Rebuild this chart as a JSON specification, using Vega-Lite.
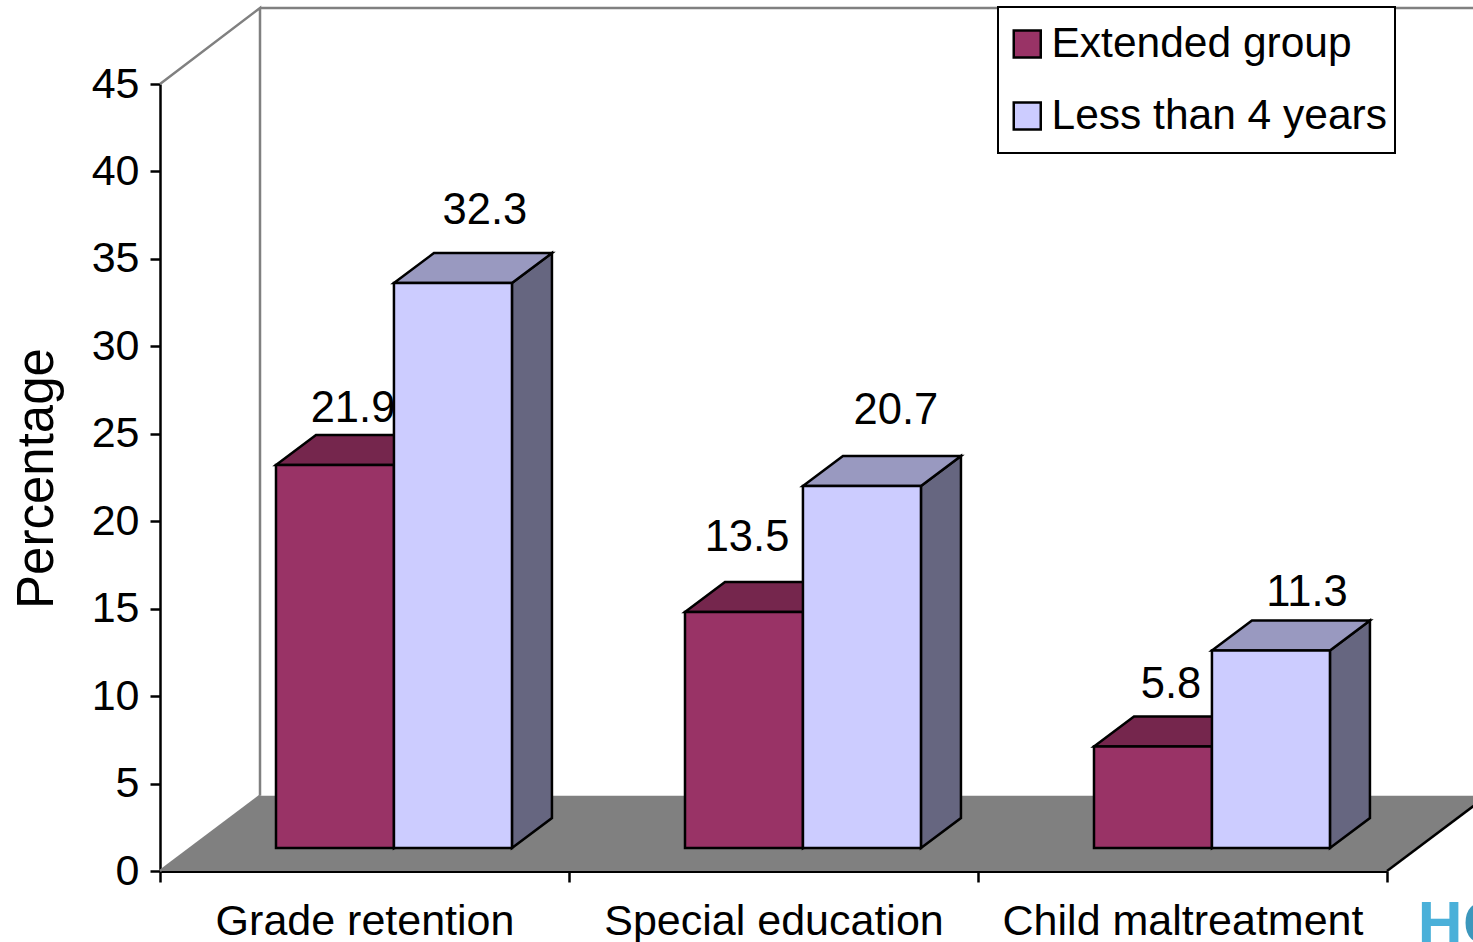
{
  "$schema": "https://vega.github.io/schema/vega-lite/v6.json",
  "width": 1313,
  "height": 871,
  "autosize": "none",
  "padding": {"left": 160, "top": 0, "right": 0, "bottom": 71},
  "background": "white",
  "config": {"font": "Liberation Sans", "view": {"stroke": null}, "legend": {"strokeWidth": 2}},
  "data": {"values": [
    {"category": "Grade retention", "series": "Extended group", "value": 21.9},
    {"category": "Grade retention", "series": "Less than 4 years", "value": 32.3},
    {"category": "Special education", "series": "Extended group", "value": 13.5},
    {"category": "Special education", "series": "Less than 4 years", "value": 20.7},
    {"category": "Child maltreatment", "series": "Extended group", "value": 5.8},
    {"category": "Child maltreatment", "series": "Less than 4 years", "value": 11.3}
  ]},
  "transform": [
    {"calculate": "indexof(['Grade retention','Special education','Child maltreatment'], datum.category) + (datum.series === 'Extended group' ? 0.2836 : 0.572)", "as": "left"},
    {"calculate": "datum.left + 0.2885", "as": "right"},
    {"calculate": "(datum.left + datum.right) / 2", "as": "center"}
  ],
  "layer": [
    {
      "description": "Chart floor",
      "data": {"values": [
        {"level": 0, "from": 0, "to": 3},
        {"level": 4.3, "from": 0.2445, "to": 3.2445}
      ]},
      "mark": {"type": "area", "orient": "horizontal", "color": "#808080"},
      "encoding": {
        "y": {"field": "level", "type": "quantitative", "scale": {"domain": [0, 45], "range": [871, 84]},
          "axis": {
            "values": [0, 5, 10, 15, 20, 25, 30, 35, 40, 45],
            "title": "Percentage",
            "titleFontSize": 51,
            "titleFontWeight": "normal",
            "titleColor": "black",
            "titleX": -123,
            "titleY": 478,
            "titleAlign": "center",
            "titleBaseline": "middle",
            "labelFontSize": 43,
            "labelColor": "black",
            "labelPadding": 11,
            "tickColor": "black",
            "tickWidth": 2.5,
            "tickSize": 10,
            "domainColor": "black",
            "domainWidth": 2.5,
            "grid": false
          }},
        "x": {"field": "from", "type": "quantitative", "scale": {"domain": [0, 3], "range": [0, 1227]},
          "axis": {
            "values": [0, 1, 2, 3],
            "title": null,
            "labelExpr": "['Grade retention','Special education','Child maltreatment',''][datum.value]",
            "labelFontSize": 43,
            "labelColor": "black",
            "labelOffset": 204.5,
            "labelPadding": 18,
            "labelLimit": 500,
            "labelFlush": false,
            "labelOverlap": false,
            "labelBound": false,
            "tickColor": "black",
            "tickWidth": 2.5,
            "tickSize": 11,
            "domainColor": "black",
            "domainWidth": 3,
            "grid": false
          }},
        "x2": {"field": "to"}
      }
    },
    {
      "description": "Back wall and side wall outline",
      "data": {"values": [
        {"edge": "side", "step": 0, "px": 0, "py": 45},
        {"edge": "side", "step": 1, "px": 0.2445, "py": 49.35},
        {"edge": "side", "step": 2, "px": 0.2445, "py": 4.3},
        {"edge": "top", "step": 0, "px": 0.2445, "py": 49.35},
        {"edge": "top", "step": 1, "px": 3.2445, "py": 49.35},
        {"edge": "lip", "step": 0, "px": 0, "py": 0},
        {"edge": "lip", "step": 1, "px": 0.2445, "py": 4.3}
      ]},
      "mark": {"type": "line", "stroke": "#808080", "strokeWidth": 2.5},
      "encoding": {
        "x": {"field": "px", "type": "quantitative"},
        "y": {"field": "py", "type": "quantitative", "scale": {"domain": [0, 45], "range": [871, 84]}, "axis": null},
        "detail": {"field": "edge"},
        "order": {"field": "step"}
      }
    },
    {
      "description": "Front edge of the floor on the right",
      "data": {"values": [
        {"px": 3, "py": 0},
        {"px": 3.2445, "py": 4.3}
      ]},
      "mark": {"type": "line", "stroke": "black", "strokeWidth": 2.5},
      "encoding": {
        "x": {"field": "px", "type": "quantitative"},
        "y": {"field": "py", "type": "quantitative", "scale": {"domain": [0, 45], "range": [871, 84]}, "axis": null}
      }
    },
    {
      "description": "Right side face of each column",
      "transform": [
        {"calculate": "[0, 1]", "as": "depth"},
        {"flatten": ["depth"]},
        {"calculate": "datum.right + datum.depth * 0.0978", "as": "sx"},
        {"calculate": "datum.value + datum.depth * 1.715", "as": "sTop"},
        {"calculate": "datum.depth * 1.715", "as": "sBase"}
      ],
      "mark": {"type": "area", "orient": "vertical", "stroke": "black", "strokeWidth": 2.5},
      "encoding": {
        "x": {"field": "sx", "type": "quantitative"},
        "y": {"field": "sTop", "type": "quantitative", "scale": {"domain": [0, 45], "range": [848, 61]}, "axis": null},
        "y2": {"field": "sBase"},
        "detail": {"field": "category"},
        "color": {"field": "series", "type": "nominal", "legend": null,
          "scale": {"domain": ["Extended group", "Less than 4 years"], "range": ["#75264D", "#666680"]}}
      }
    },
    {
      "description": "Top face of each column",
      "transform": [
        {"calculate": "[0, 1]", "as": "depth"},
        {"flatten": ["depth"]},
        {"calculate": "datum.left + datum.depth * 0.0978", "as": "tLeft"},
        {"calculate": "datum.right + datum.depth * 0.0978", "as": "tRight"},
        {"calculate": "datum.value + datum.depth * 1.715", "as": "tLevel"}
      ],
      "mark": {"type": "area", "orient": "horizontal", "stroke": "black", "strokeWidth": 2.5},
      "encoding": {
        "y": {"field": "tLevel", "type": "quantitative", "scale": {"domain": [0, 45], "range": [848, 61]}, "axis": null},
        "x": {"field": "tLeft", "type": "quantitative"},
        "x2": {"field": "tRight"},
        "detail": {"field": "category"},
        "color": {"field": "series", "type": "nominal", "legend": null,
          "scale": {"domain": ["Extended group", "Less than 4 years"], "range": ["#75264D", "#9999C0"]}}
      }
    },
    {
      "transform": [{"filter": "datum.value === 21.9"}],
      "mark": {"type": "text", "fontSize": 43.5, "color": "black", "dx": 18, "dy": -56},
      "encoding": {
        "x": {"field": "center", "type": "quantitative"},
        "y": {"field": "value", "type": "quantitative", "scale": {"domain": [0, 45], "range": [848, 61]}, "axis": null},
        "text": {"field": "value", "type": "quantitative", "format": ".1f"}
      }
    },
    {
      "transform": [{"filter": "datum.value === 32.3"}],
      "mark": {"type": "text", "fontSize": 43.5, "color": "black", "dx": 32, "dy": -72},
      "encoding": {
        "x": {"field": "center", "type": "quantitative"},
        "y": {"field": "value", "type": "quantitative", "scale": {"domain": [0, 45], "range": [848, 61]}, "axis": null},
        "text": {"field": "value", "type": "quantitative", "format": ".1f"}
      }
    },
    {
      "transform": [{"filter": "datum.value === 13.5"}],
      "mark": {"type": "text", "fontSize": 43.5, "color": "black", "dx": 3, "dy": -74},
      "encoding": {
        "x": {"field": "center", "type": "quantitative"},
        "y": {"field": "value", "type": "quantitative", "scale": {"domain": [0, 45], "range": [848, 61]}, "axis": null},
        "text": {"field": "value", "type": "quantitative", "format": ".1f"}
      }
    },
    {
      "transform": [{"filter": "datum.value === 20.7"}],
      "mark": {"type": "text", "fontSize": 43.5, "color": "black", "dx": 34, "dy": -75},
      "encoding": {
        "x": {"field": "center", "type": "quantitative"},
        "y": {"field": "value", "type": "quantitative", "scale": {"domain": [0, 45], "range": [848, 61]}, "axis": null},
        "text": {"field": "value", "type": "quantitative", "format": ".1f"}
      }
    },
    {
      "transform": [{"filter": "datum.value === 5.8"}],
      "mark": {"type": "text", "fontSize": 43.5, "color": "black", "dx": 18, "dy": -62},
      "encoding": {
        "x": {"field": "center", "type": "quantitative"},
        "y": {"field": "value", "type": "quantitative", "scale": {"domain": [0, 45], "range": [848, 61]}, "axis": null},
        "text": {"field": "value", "type": "quantitative", "format": ".1f"}
      }
    },
    {
      "transform": [{"filter": "datum.value === 11.3"}],
      "mark": {"type": "text", "fontSize": 43.5, "color": "black", "dx": 36, "dy": -57},
      "encoding": {
        "x": {"field": "center", "type": "quantitative"},
        "y": {"field": "value", "type": "quantitative", "scale": {"domain": [0, 45], "range": [848, 61]}, "axis": null},
        "text": {"field": "value", "type": "quantitative", "format": ".1f"}
      }
    },
    {
      "description": "Front face of each column, carries the legend",
      "mark": {"type": "rect", "stroke": "black", "strokeWidth": 2.5},
      "encoding": {
        "x": {"field": "left", "type": "quantitative"},
        "x2": {"field": "right"},
        "y": {"field": "value", "type": "quantitative", "scale": {"domain": [0, 45], "range": [848, 61]}, "axis": null},
        "y2": {"datum": 0},
        "color": {"field": "series", "type": "nominal",
          "scale": {"domain": ["Extended group", "Less than 4 years"], "range": ["#993366", "#CCCCFF"]},
          "legend": {
            "title": null,
            "orient": "none",
            "legendX": 838,
            "legendY": 7,
            "fillColor": "white",
            "strokeColor": "black",
            "padding": 8,
            "symbolType": "square",
            "symbolSize": 729,
            "symbolStrokeColor": "black",
            "symbolStrokeWidth": 2.5,
            "symbolOpacity": 1,
            "labelFontSize": 42.5,
            "labelColor": "black",
            "labelOffset": 3,
            "clipHeight": 58,
            "rowPadding": 14,
            "labelLimit": 500
          }}
      }
    },
    {
      "description": "Publisher mark at the lower right corner, first letter",
      "data": {"values": [{"word": "H"}]},
      "mark": {"type": "text", "fontSize": 62, "fontWeight": "bold", "color": "#4AB0D9", "align": "left", "baseline": "alphabetic"},
      "encoding": {
        "x": {"datum": 3.075},
        "y": {"datum": -4.2, "scale": {"domain": [0, 45], "range": [871, 84]}, "axis": null},
        "text": {"field": "word"}
      }
    },
    {
      "description": "Publisher mark, second letter running off the corner",
      "data": {"values": [{"word": "C"}]},
      "mark": {"type": "text", "fontSize": 62, "fontWeight": "bold", "color": "#3C97BC", "align": "left", "baseline": "alphabetic"},
      "encoding": {
        "x": {"datum": 3.186},
        "y": {"datum": -4.2, "scale": {"domain": [0, 45], "range": [871, 84]}, "axis": null},
        "text": {"field": "word"}
      }
    }
  ],
  "resolve": {"scale": {"y": "independent", "color": "independent"}}
}
